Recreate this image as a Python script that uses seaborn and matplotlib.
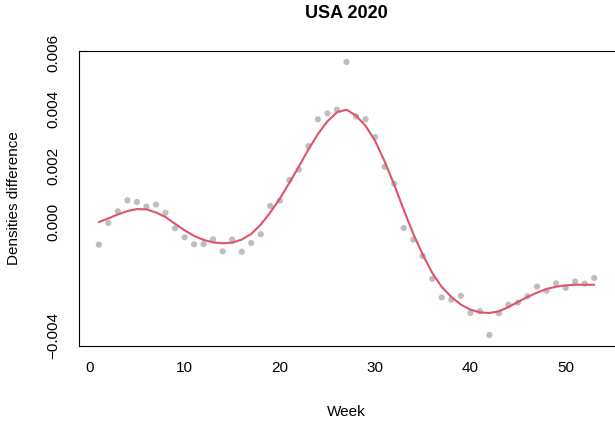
import seaborn as sns
import matplotlib.pyplot as plt
import pandas as pd

# weekly density difference (points)
weeks = list(range(1, 54))
observed = [
    -0.00079, -0.00002, 0.00039, 0.00078, 0.00072, 0.00056, 0.00063, 0.00034,
    -0.00021, -0.00053, -0.00078, -0.00077, -0.00060, -0.00103, -0.00061, -0.00104,
    -0.00073, -0.00042, 0.00058, 0.00077, 0.00150, 0.00187, 0.00270, 0.00365,
    0.00386, 0.00399, 0.00568, 0.00375, 0.00365, 0.00302, 0.00197, 0.00137,
    -0.00020, -0.00061, -0.00119, -0.00200, -0.00266, -0.00274, -0.00260, -0.00321,
    -0.00315, -0.00399, -0.00322, -0.00292, -0.00284, -0.00262, -0.00228, -0.00242,
    -0.00216, -0.00232, -0.00210, -0.00217, -0.00197,
]
# smoothed curve
smoothed = [
    0.00001, 0.00014, 0.00028, 0.00040, 0.00047, 0.00046, 0.00035, 0.00019,
    -0.00005, -0.00028, -0.00048, -0.00062, -0.00071, -0.00074, -0.00072, -0.00061,
    -0.00041, -0.00008, 0.00035, 0.00084, 0.00140, 0.00198, 0.00258, 0.00313,
    0.00358, 0.00390, 0.00399, 0.00378, 0.00342, 0.00289, 0.00216, 0.00134,
    0.00045, -0.00040, -0.00114, -0.00179, -0.00229, -0.00264, -0.00291, -0.00309,
    -0.00319, -0.00321, -0.00315, -0.00300, -0.00282, -0.00264, -0.00249, -0.00236,
    -0.00228, -0.00223, -0.00221, -0.00221, -0.00221,
]
xticks = [0, 10, 20, 30, 40, 50]
yticks = [-0.004, -0.002, 0.000, 0.002, 0.004, 0.006]
ytick_labels = ["\u22120.004", "", "0.000", "0.002", "0.004", "0.006"]

df = pd.DataFrame({"week": weeks, "obs": observed, "fit": smoothed})

sns.set_theme(style="white")
plt.rcParams['font.family'] = ['Liberation Sans', 'DejaVu Sans']

fig = plt.figure(figsize=(6.15, 4.22), dpi=100)
W, H = 615, 422
ax = fig.add_axes([79 / W, (H - 346) / H, 535 / W, 295 / H])

sns.scatterplot(data=df, x="week", y="obs", ax=ax, color="#BEBEBE", s=20,
                edgecolor="none", linewidth=0)
sns.lineplot(data=df, x="week", y="fit", ax=ax, color="#DF536B", linewidth=1.5)

ax.set_xlim(-1.08, 55.08)
ax.set_ylim(-0.00438, 0.00607)
ax.set_xticks(xticks)
ax.set_xticklabels([str(t) for t in xticks])
ax.set_yticks(yticks)
ax.set_yticklabels(ytick_labels, rotation=90, va="center")

for s in ax.spines.values():
    s.set_color("black")
    s.set_linewidth(0.8)
# the box runs off the right edge of the picture in the original
ax.spines["right"].set_visible(False)

ax.tick_params(axis="both", direction="out", length=7, width=0.8, color="black",
               labelsize=11, labelcolor="black")
ax.tick_params(axis="x", pad=3.5)
ax.tick_params(axis="y", pad=6.5)
ax.grid(False)

ax.set_xlabel("Week", fontsize=11, color="black")
ax.set_ylabel("Densities difference", fontsize=11, color="black")
ax.xaxis.set_label_coords(0.5, -(412 - 346) / 295)
ax.xaxis.label.set_va("center")
ax.yaxis.set_label_coords(-(79 - 14) / 535, 0.5)
ax.yaxis.label.set_va("center")

ax.text(0.5, 1 + (51 - 13) / 295, "USA 2020", transform=ax.transAxes,
        ha="center", va="center", fontsize=13, fontweight="bold", color="black")

fig.savefig("out.png", dpi=100, facecolor="white")
